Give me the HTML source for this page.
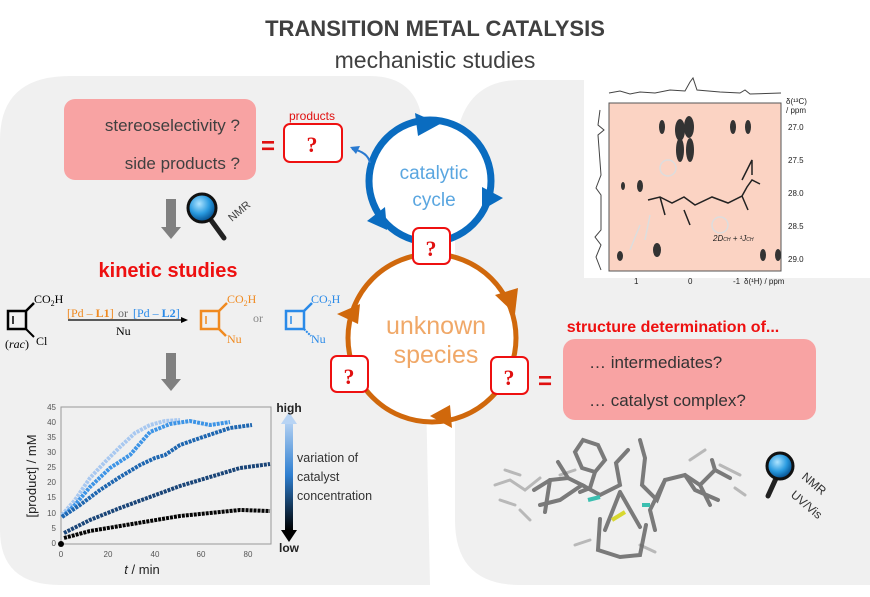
<!DOCTYPE html>
<html><head><meta charset="utf-8"><style>
body{margin:0;background:#fff;width:870px;height:592px;overflow:hidden;font-family:"Liberation Sans",sans-serif}
</style></head><body>
<svg width="870" height="592" viewBox="0 0 870 592" xmlns="http://www.w3.org/2000/svg" font-family="Liberation Sans, sans-serif">
<defs>
<linearGradient id="ga" x1="0" y1="0" x2="0" y2="1"><stop offset="0" stop-color="#b8d4f4"/><stop offset="0.5" stop-color="#2f7fd0"/><stop offset="1" stop-color="#000"/></linearGradient>
<radialGradient id="lens" cx="0.4" cy="0.35" r="0.6"><stop offset="0" stop-color="#aee4ff"/><stop offset="0.6" stop-color="#2a9be0"/><stop offset="1" stop-color="#0a5a9a"/></radialGradient>
</defs>
<path d="M0,140 Q0,76 70,76 L370,76 Q410,76 420,110 L430,585 L60,585 Q0,585 0,530 Z" fill="#f0f0f0"/>
<path d="M520,80 L810,80 Q870,80 870,140 L870,585 L520,585 Q455,585 455,520 L455,150 Q460,80 520,80 Z" fill="#f0f0f0"/>
<text x="435" y="36" text-anchor="middle" font-size="22" font-weight="bold" fill="#404040">TRANSITION METAL CATALYSIS</text>
<text x="435" y="68" text-anchor="middle" font-size="23" fill="#404040">mechanistic studies</text>
<rect x="64" y="99" width="192" height="81" rx="11" fill="#f8a3a3"/>
<text x="240" y="131" text-anchor="end" font-size="17" fill="#404040">stereoselectivity ?</text>
<text x="240" y="169" text-anchor="end" font-size="17" fill="#404040">side products ?</text>
<text x="261" y="154" font-size="24" font-weight="bold" fill="#e01010">=</text>
<text x="312" y="120" text-anchor="middle" font-size="12" fill="#e01010">products</text>
<rect x="284" y="124" width="58" height="38" rx="6" fill="#fff" stroke="#ee1010" stroke-width="2"/>
<text x="312" y="152" text-anchor="middle" font-size="22" font-weight="bold" font-family="Liberation Serif,serif" fill="#e01010">?</text>
<rect x="166" y="199" width="10" height="28" fill="#808080"/><polygon points="161,227 181,227 171,239" fill="#808080"/>
<g transform="translate(202,208)"><line x1="6" y1="8" x2="22" y2="30" stroke="#222" stroke-width="5" stroke-linecap="round"/><circle cx="0" cy="0" r="14" fill="url(#lens)" stroke="#111" stroke-width="3"/></g>
<text x="232" y="222" font-size="11" fill="#404040" transform="rotate(-40 232 222)">NMR</text>
<text x="168" y="277" text-anchor="middle" font-size="20" font-weight="bold" fill="#ee1010">kinetic studies</text>
<g font-family="Liberation Serif,serif" font-size="12">
<rect x="8" y="311" width="18" height="18" fill="none" stroke="#000" stroke-width="2.5"/><line x1="13" y1="316" x2="13" y2="324" stroke="#000" stroke-width="1.5"/>
<line x1="26" y1="311" x2="34" y2="303" stroke="#000" stroke-width="2.5"/><line x1="26" y1="329" x2="34" y2="337" stroke="#000" stroke-width="2"/>
<text x="34" y="303" fill="#000">CO<tspan font-size="8" dy="3">2</tspan><tspan dy="-3">H</tspan></text>
<text x="36" y="345" fill="#000">Cl</text><text x="5" y="348" fill="#000">(<tspan font-style="italic">rac</tspan>)</text>
<text x="67" y="317" fill="#f08a20">[Pd – <tspan font-weight="bold">L1</tspan>]</text><text x="118" y="317" fill="#666">or</text><text x="133" y="317" fill="#2a8ae8">[Pd – <tspan font-weight="bold">L2</tspan>]</text>
<line x1="68" y1="320" x2="183" y2="320" stroke="#000" stroke-width="1.2"/><polygon points="188,320 181,317 181,323" fill="#000"/>
<text x="116" y="335" fill="#000">Nu</text>
<rect x="201" y="311" width="18" height="18" fill="none" stroke="#f08a20" stroke-width="2.5"/><line x1="206" y1="316" x2="206" y2="324" stroke="#f08a20" stroke-width="1.5"/>
<line x1="219" y1="311" x2="227" y2="303" stroke="#f08a20" stroke-width="2.5"/><line x1="219" y1="329" x2="226" y2="336" stroke="#f08a20" stroke-width="2.5"/>
<text x="227" y="303" fill="#f08a20">CO<tspan font-size="8" dy="3">2</tspan><tspan dy="-3">H</tspan></text><text x="227" y="343" fill="#f08a20">Nu</text>
<text x="253" y="322" fill="#888">or</text>
<rect x="286" y="311" width="18" height="18" fill="none" stroke="#2a8ae8" stroke-width="2.5"/><line x1="291" y1="316" x2="291" y2="324" stroke="#2a8ae8" stroke-width="1.5"/>
<line x1="304" y1="311" x2="312" y2="303" stroke="#2a8ae8" stroke-width="2.5"/><line x1="304" y1="329" x2="311" y2="336" stroke="#2a8ae8" stroke-width="2" stroke-dasharray="2,1"/>
<text x="311" y="303" fill="#2a8ae8">CO<tspan font-size="8" dy="3">2</tspan><tspan dy="-3">H</tspan></text><text x="311" y="343" fill="#2a8ae8">Nu</text>
</g>
<rect x="166" y="353" width="10" height="26" fill="#808080"/><polygon points="161,379 181,379 171,391" fill="#808080"/>
<rect x="61" y="407" width="210" height="137" fill="none" stroke="#999" stroke-width="1"/>
<g font-size="8" fill="#555" text-anchor="end">
<text x="56" y="410">45</text><text x="56" y="425">40</text><text x="56" y="440">35</text><text x="56" y="455">30</text><text x="56" y="470">25</text><text x="56" y="485">20</text><text x="56" y="500">15</text><text x="56" y="516">10</text><text x="56" y="531">5</text><text x="56" y="546">0</text></g>
<g font-size="8" fill="#555" text-anchor="middle"><text x="61" y="557">0</text><text x="108" y="557">20</text><text x="155" y="557">40</text><text x="201" y="557">60</text><text x="248" y="557">80</text></g>
<text x="142" y="574" text-anchor="middle" font-size="13" fill="#222"><tspan font-style="italic">t</tspan> / min</text>
<text x="36" y="476" text-anchor="middle" font-size="13" fill="#222" transform="rotate(-90 36 476)">[product] / mM</text>
<g fill="none" stroke-width="4" stroke-dasharray="3,1">
<polyline stroke="#a8c8f0" points="62,515 75,500 90,478 105,462 120,447 135,433 150,425 165,421 180,420"/>
<polyline stroke="#3d94e6" points="62,517 75,505 90,487 110,468 130,455 150,432 170,424 190,421 210,425 230,422"/>
<polyline stroke="#1e66b0" points="62,517 80,505 100,490 120,477 140,465 155,458 165,455 180,445 200,438 230,428 252,425"/>
<polyline stroke="#1a4578" points="64,533 90,520 120,508 150,497 180,486 210,477 240,468 270,464"/>
<polyline stroke="#050505" points="64,538 90,531 120,526 150,521 180,516 210,513 240,510 270,511"/>
</g>
<circle cx="61" cy="544" r="3" fill="#000"/>
<rect x="285" y="420" width="8" height="110" fill="url(#ga)"/>
<polygon points="281,424 289,412 297,424" fill="#b8d4f4"/><polygon points="281,530 289,542 297,530" fill="#000"/>
<text x="289" y="412" text-anchor="middle" font-size="12" font-weight="bold" fill="#222">high</text>
<text x="289" y="552" text-anchor="middle" font-size="12" font-weight="bold" fill="#222">low</text>
<g font-size="12.5" fill="#333"><text x="297" y="462">variation of</text><text x="297" y="481">catalyst</text><text x="297" y="500">concentration</text></g>
<circle cx="430" cy="181" r="61" fill="#fff" stroke="#0a6cc0" stroke-width="7"/>
<polygon points="415,113 440,124 418,136" fill="#0a6cc0"/>
<polygon points="482,187 503,198 482,210" fill="#0a6cc0"/>
<polygon points="367,221 385,207 387,230" fill="#0a6cc0"/>
<path d="M370,163 Q368,152 352,149" fill="none" stroke="#2a7ad0" stroke-width="2"/><polygon points="350,147 360,146 356,154" fill="#2a7ad0"/>
<text x="434" y="179" text-anchor="middle" font-size="19" fill="#5aa6e0">catalytic</text>
<text x="434" y="206" text-anchor="middle" font-size="19" fill="#5aa6e0">cycle</text>
<circle cx="432" cy="338" r="84" fill="#fff" stroke="#d0680c" stroke-width="5"/>
<polygon points="495,295 518,288 515,314" fill="#d0680c"/>
<polygon points="337,314 360,304 358,324" fill="#d0680c"/>
<polygon points="430,416 450,405 452,428" fill="#d0680c"/>
<text x="436" y="334" text-anchor="middle" font-size="25" fill="#f0a868">unknown</text>
<text x="436" y="363" text-anchor="middle" font-size="25" fill="#f0a868">species</text>
<g font-family="Liberation Serif,serif" font-size="22" font-weight="bold" fill="#e01010" text-anchor="middle">
<rect x="413" y="228" width="37" height="36" rx="6" fill="#fff" stroke="#ee1010" stroke-width="2"/><text x="431" y="256">?</text>
<rect x="331" y="356" width="37" height="36" rx="6" fill="#fff" stroke="#ee1010" stroke-width="2"/><text x="349" y="384">?</text>
<rect x="491" y="357" width="37" height="37" rx="6" fill="#fff" stroke="#ee1010" stroke-width="2"/><text x="509" y="385">?</text>
</g>
<text x="538" y="389" font-size="24" font-weight="bold" fill="#e01010">=</text>
<rect x="584" y="76" width="286" height="202" fill="#fff"/>
<rect x="609" y="103" width="172" height="168" fill="#fbd3c3" stroke="#555" stroke-width="1"/>
<path d="M609,93 L620,91 L630,94 L640,92 L655,93 L670,90 L685,91 L690,82 L693,78 L697,90 L720,92 L740,93 L745,90 L750,94 L781,93" fill="none" stroke="#444"/>
<path d="M600,110 L598,125 L604,130 L598,135 L601,175 L596,188 L601,195 L601,230 L595,237 L601,245 L596,257 L601,270" fill="none" stroke="#444"/>
<g fill="#333"><ellipse cx="662" cy="127" rx="3" ry="7"/><ellipse cx="680" cy="130" rx="5" ry="11"/><ellipse cx="689" cy="127" rx="5" ry="11"/><ellipse cx="680" cy="150" rx="4" ry="12"/><ellipse cx="690" cy="150" rx="4" ry="12"/><ellipse cx="733" cy="127" rx="3" ry="7"/><ellipse cx="748" cy="127" rx="3" ry="7"/>
<ellipse cx="620" cy="256" rx="3" ry="5"/><ellipse cx="657" cy="250" rx="4" ry="7"/><ellipse cx="763" cy="255" rx="3" ry="6"/><ellipse cx="778" cy="255" rx="3" ry="6"/><ellipse cx="623" cy="186" rx="2" ry="4"/><ellipse cx="640" cy="186" rx="3" ry="6"/></g>
<g stroke="#222" stroke-width="1.5" fill="none"><path d="M648,200 L660,197 L672,203 L684,197 L695,205 L712,197 L728,203 L742,196 L747,187 L752,180 L760,184"/><path d="M742,196 L748,210"/><path d="M742,180 L752,160 L752,175"/><path d="M660,197 L665,215 M684,210 L690,225"/></g>
<g stroke="#ddd" stroke-width="1.5" fill="none"><circle cx="720" cy="225" r="8"/><circle cx="668" cy="168" r="8"/><path d="M640,225 L630,250 M650,215 L645,240"/></g>
<g font-size="8" fill="#222"><text x="786" y="104">δ(¹³C)</text><text x="786" y="113">/ ppm</text>
<text x="788" y="130">27.0</text><text x="788" y="163">27.5</text><text x="788" y="196">28.0</text><text x="788" y="229">28.5</text><text x="788" y="262">29.0</text>
<text x="634" y="284">1</text><text x="688" y="284">0</text><text x="733" y="284">-1</text><text x="744" y="284">δ(¹H) / ppm</text>
<text x="713" y="241" font-style="italic">2D<tspan font-size="5">CH</tspan> + ¹J<tspan font-size="5">CH</tspan></text></g>
<text x="673" y="332" text-anchor="middle" font-size="16" font-weight="bold" fill="#ee1010">structure determination of...</text>
<rect x="563" y="339" width="253" height="81" rx="12" fill="#f8a3a3"/>
<text x="589" y="368" font-size="17" fill="#333">… intermediates?</text>
<text x="589" y="406" font-size="17" fill="#333">… catalyst complex?</text>
<g stroke="#aaa" stroke-width="3" stroke-linecap="round" fill="none" opacity="0.8">
<path d="M495,485 L510,480 L525,490 L540,478 M500,500 L515,505 M505,470 L520,475 M560,475 L575,470 M690,460 L705,450 M720,465 L740,475 M735,488 L745,495 M590,540 L575,545 M640,545 L655,552 M520,510 L530,520"/>
</g>
<g stroke="#666" stroke-width="4" stroke-linecap="round" fill="none" opacity="0.85">
<path d="M583,440 L598,445 L605,460 L595,472 L582,468 L575,452 Z"/><path d="M595,472 L590,488 L580,492"/>
<path d="M534,490 L550,480 L568,478 L582,485 L560,500 L540,505"/><path d="M568,478 L558,462 M550,480 L545,512"/>
<path d="M582,485 L600,495 L620,485 L616,463 L628,450"/>
<path d="M640,440 L645,458 L642,485 L657,500 L665,480 L685,475 L700,485 L715,470 L730,478"/>
<path d="M700,485 L710,505 M715,470 L712,460 M685,475 L695,490 L718,500 M665,480 L650,510 L655,530"/>
<path d="M600,519 L598,550 L620,557 L640,555 L646,525"/>
<path d="M620,492 L605,530 M620,492 L640,527"/>
</g>
<g stroke="#3bbfb0" stroke-width="4"><line x1="588" y1="500" x2="600" y2="497"/><line x1="642" y1="505" x2="650" y2="505"/></g>
<g stroke="#d8d830" stroke-width="4"><line x1="612" y1="520" x2="625" y2="512"/></g>
<g transform="translate(780,466)"><line x1="-2" y1="8" x2="-12" y2="30" stroke="#222" stroke-width="5" stroke-linecap="round"/><circle cx="0" cy="0" r="13" fill="url(#lens)" stroke="#111" stroke-width="3"/></g>
<text x="801" y="478" font-size="12" fill="#333" transform="rotate(40 801 478)">NMR</text>
<text x="790" y="496" font-size="12" fill="#333" transform="rotate(40 790 496)">UV/Vis</text>
</svg>
</body></html>
